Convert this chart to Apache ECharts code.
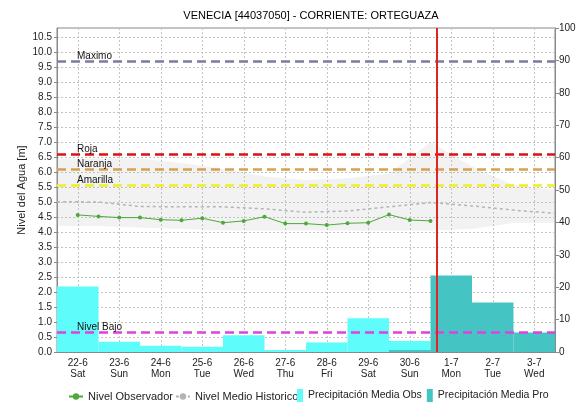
<!DOCTYPE html>
<html>
<head>
<meta charset="utf-8">
<script src="https://cdn.jsdelivr.net/npm/echarts@6/dist/echarts.min.js"></script>
<style>
  html, body { margin: 0; padding: 0; background: #fff; }
  #chart { width: 579px; height: 403px; }
</style>
</head>
<body>
<div id="chart"></div>
<script>
// dias del eje X
const days = ['22-6', '23-6', '24-6', '25-6', '26-6', '27-6', '28-6', '29-6', '30-6', '1-7', '2-7', '3-7']
const weekdays = ['Sat', 'Sun', 'Mon', 'Tue', 'Wed', 'Thu', 'Fri', 'Sat', 'Sun', 'Mon', 'Tue', 'Wed']

// precipitacion (eje derecho)
const precipObs = [20.2, 3.2, 1.9, 1.6, 5.2, 0.6, 2.9, 10.4, 3.4, null, null, null]
const precipPro = [null, null, null, null, null, null, null, null, 0.6, 23.6, 15.3, 6.0]

// nivel observado, cada 12 h (tiempo en dias desde 22-6 00h)
const obsTime = [0.5, 1, 1.5, 2, 2.5, 3, 3.5, 4, 4.5, 5, 5.5, 6, 6.5, 7, 7.5, 8, 8.5, 9]
const obsLevel = [4.57, 4.52, 4.48, 4.48, 4.41, 4.39, 4.46, 4.31, 4.37, 4.51, 4.28, 4.28, 4.23, 4.29, 4.31, 4.58, 4.40, 4.37]

// historico
const histTime = [0, 1, 2, 3, 4, 5, 6, 7, 8, 9, 10, 11, 12]
const histMean = [5.01, 5.0, 4.85, 4.84, 4.84, 4.77, 4.66, 4.70, 4.84, 4.98, 4.87, 4.73, 4.62]
const histMax = [6.45, 6.45, 6.45, 6.3, 6.1, 5.85, 5.73, 5.79, 5.95, 7.0, 6.18, 5.57, 5.4]
const histMin = [4.2, 4.2, 4.15, 4.1, 4.05, 4.05, 4.05, 4.05, 4.05, 4.05, 4.1, 4.3, 4.3]

// niveles de alerta
const levelNames = ['Maximo', 'Roja', 'Naranja', 'Amarilla', 'Nivel Bajo']
const levelValues = [9.7, 6.6, 6.1, 5.55, 0.65]
const levelColors = ['#7a7e9a', '#dd1111', '#d9a050', '#f0f020', '#e040e0']

// momento actual
const nowTime = 9.16

const chart = echarts.init(document.getElementById('chart'))

const pairs = (xs, ys) => xs.map((x, i) => [x, ys[i]])

// banda historica min-max como poligono
const renderBand = (params, api) => {
  if (params.dataIndex !== 0) return
  const top = histTime.map((t, i) => api.coord([t, histMax[i]]))
  const bottom = histTime.map((t, i) => api.coord([t, histMin[i]])).reverse()
  return {
    type: 'polygon',
    shape: {points: top.concat(bottom)},
    style: {fill: 'rgba(190,190,190,0.2)'},
    silent: true
  }
}

// linea vertical del momento actual
const renderNow = (params, api) => {
  const p0 = api.coord([nowTime, 0])
  const p1 = api.coord([nowTime, 10.8])
  return {
    type: 'line',
    shape: {x1: Math.round(p0[0]), y1: p0[1], x2: Math.round(p1[0]), y2: p1[1]},
    style: {stroke: '#e02424', lineWidth: 2}
  }
}

const option = {
  animation: false,
  backgroundColor: '#fff',
  textStyle: {fontFamily: 'Liberation Sans, Arial, sans-serif'},
  title: {
    text: 'VENECIA [44037050] - CORRIENTE: ORTEGUAZA',
    left: 306,
    textAlign: 'center',
    top: 5,
    textStyle: {fontSize: 11, fontWeight: 'normal', color: '#000'}
  },
  legend: [
    {
      data: ['Nivel Observador', 'Nivel Medio Historico'],
      left: 63,
      top: 386,
      itemWidth: 14,
      itemHeight: 8,
      itemGap: 2,
      textStyle: {fontSize: 11, color: '#222'}
    },
    {
      data: ['Precipitación Media Obs', 'Precipitación Media Pro'],
      left: 292,
      top: 384,
      icon: 'rect',
      itemWidth: 6,
      itemHeight: 13,
      itemGap: 5,
      textStyle: {fontSize: 10.5, color: '#222'}
    }
  ],
  grid: {
    left: 57, right: 24, top: 28, bottom: 51,
    show: true, borderColor: '#888', borderWidth: 1
  },
  xAxis: [
    {
      type: 'category',
      data: days,
      boundaryGap: true,
      axisLine: {lineStyle: {color: '#888'}},
      axisTick: {show: false},
      axisLabel: {
        fontSize: 10, color: '#222', margin: 6, lineHeight: 11,
        formatter: (v, i) => v + '\n' + weekdays[i]
      },
      splitLine: {show: true, alignWithLabel: true, lineStyle: {color: '#c4c4c4', type: [2, 2]}}
    },
    {
      type: 'value',
      min: 0,
      max: 12,
      show: false,
      splitLine: {show: false}
    }
  ],
  yAxis: [
    {
      type: 'value',
      min: 0,
      max: 10.8,
      interval: 0.5,
      name: 'Nivel del Agua [m]',
      nameLocation: 'middle',
      nameGap: 30,
      nameMoveOverlap: false,
      nameTextStyle: {fontSize: 11, color: '#222'},
      axisLine: {show: true, lineStyle: {color: '#888'}},
      axisTick: {show: true, length: 3, lineStyle: {color: '#888'}},
      axisLabel: {fontSize: 10, color: '#222', margin: 5, showMaxLabel: false, formatter: v => v.toFixed(1)},
      splitLine: {show: true, lineStyle: {color: '#c4c4c4', type: [2, 2]}}
    },
    {
      type: 'value',
      min: 0,
      max: 100,
      interval: 10,
      position: 'right',
      axisLine: {show: true, lineStyle: {color: '#888'}},
      axisTick: {show: true, length: 4, lineStyle: {color: '#888'}},
      axisLabel: {fontSize: 10, color: '#222', margin: 4},
      splitLine: {show: false}
    }
  ],
  series: [
    {
      name: 'Banda Historica',
      type: 'custom',
      xAxisIndex: 1,
      yAxisIndex: 0,
      renderItem: renderBand,
      data: histTime.map((t, i) => [t, histMin[i], histMax[i]]),
      encode: {x: 0, y: [1, 2]},
      silent: true,
      z: 1
    },
    {
      name: 'Precipitación Media Obs',
      type: 'bar',
      xAxisIndex: 0,
      yAxisIndex: 1,
      data: precipObs,
      barWidth: '100%',
      barGap: '-100%',
      itemStyle: {color: '#5ffcfc'},
      z: 2
    },
    {
      name: 'Precipitación Media Pro',
      type: 'bar',
      xAxisIndex: 0,
      yAxisIndex: 1,
      data: precipPro,
      barWidth: '100%',
      barGap: '-100%',
      itemStyle: {color: '#45c4c4'},
      z: 2
    },
    {
      name: 'Nivel Medio Historico',
      type: 'line',
      xAxisIndex: 1,
      yAxisIndex: 0,
      data: pairs(histTime, histMean),
      symbol: 'none',
      lineStyle: {color: '#b4b4b4', width: 1.5, type: [3, 3]},
      itemStyle: {color: '#b4b4b4'},
      z: 3,
      markLine: {
        silent: true,
        symbol: 'none',
        data: levelNames.map((n, i) => ({
          name: n,
          yAxis: levelValues[i],
          lineStyle: {color: levelColors[i], width: 2.5, type: [9, 5]}
        })),
        label: {
          show: true,
          position: 'insideStartTop',
          distance: [20, 0],
          formatter: p => p.name,
          fontSize: 10,
          color: '#111'
        }
      }
    },
    {
      name: 'Nivel Observador',
      type: 'line',
      xAxisIndex: 1,
      yAxisIndex: 0,
      data: pairs(obsTime, obsLevel),
      symbol: 'circle',
      symbolSize: 4,
      lineStyle: {color: '#4ea83a', width: 1},
      itemStyle: {color: '#4ea83a'},
      z: 4
    },
    {
      name: 'Ahora',
      type: 'custom',
      xAxisIndex: 1,
      yAxisIndex: 0,
      renderItem: renderNow,
      data: [[nowTime, 0]],
      silent: true,
      z: 6
    }
  ]
}

chart.setOption(option)
</script>
</body>
</html>
